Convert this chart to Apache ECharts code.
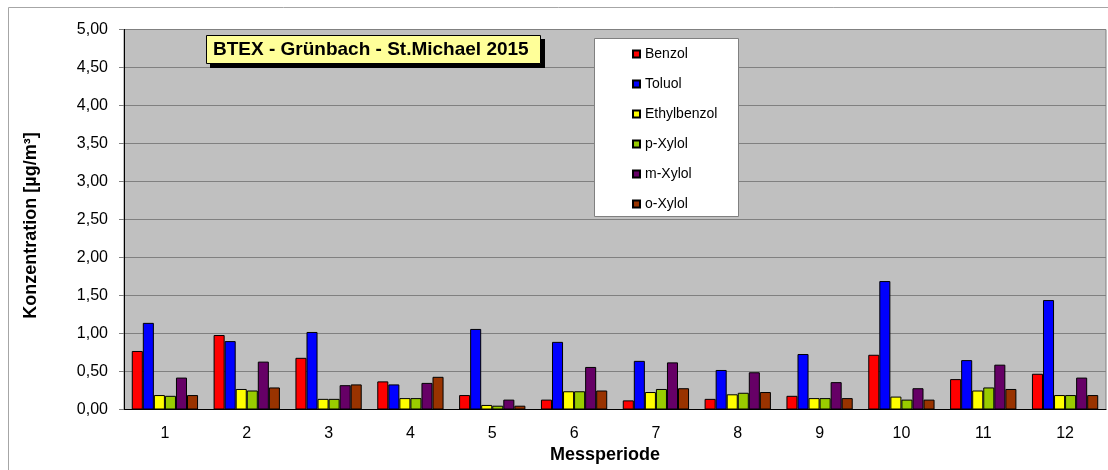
<!DOCTYPE html>
<html>
<head>
<meta charset="utf-8">
<script src="https://cdn.jsdelivr.net/npm/echarts@6/dist/echarts.min.js"></script>
<style>
  html, body { margin: 0; padding: 0; background: #fff; }
  #chart { width: 1108px; height: 470px; }
</style>
</head>
<body>
<div id="chart"></div>
<script>
const periods = ['1', '2', '3', '4', '5', '6', '7', '8', '9', '10', '11', '12']

const benzol      = [0.77, 0.98, 0.68, 0.37, 0.19, 0.13, 0.12, 0.14, 0.18, 0.72, 0.40, 0.47]
const toluol      = [1.14, 0.90, 1.02, 0.33, 1.06, 0.89, 0.64, 0.52, 0.73, 1.69, 0.65, 1.44]
const ethylbenzol = [0.19, 0.27, 0.14, 0.15, 0.06, 0.24, 0.23, 0.20, 0.15, 0.17, 0.25, 0.19]
const pXylol      = [0.18, 0.25, 0.14, 0.15, 0.05, 0.24, 0.27, 0.22, 0.15, 0.13, 0.29, 0.19]
const mXylol      = [0.42, 0.63, 0.32, 0.35, 0.13, 0.56, 0.62, 0.49, 0.36, 0.28, 0.59, 0.42]
const oXylol      = [0.19, 0.29, 0.33, 0.43, 0.05, 0.25, 0.28, 0.23, 0.15, 0.13, 0.27, 0.19]

const seriesNames = ['Benzol', 'Toluol', 'Ethylbenzol', 'p-Xylol', 'm-Xylol', 'o-Xylol']
const seriesData = [benzol, toluol, ethylbenzol, pXylol, mXylol, oXylol]
const colors = ['#ff0000', '#0000ff', '#ffff00', '#99cc00', '#660066', '#993300']

const font = 'Arial, "Liberation Sans", sans-serif'

const chart = echarts.init(document.getElementById('chart'))

const option = {
  animation: false,
  textStyle: { fontFamily: font },
  grid: {
    left: 124, top: 29.5, width: 982, height: 380,
    show: true, backgroundColor: '#c0c0c0', borderColor: '#808080', borderWidth: 1
  },
  legend: {
    orient: 'vertical',
    left: 632, top: 46,
    padding: 0,
    z: 120,
    itemWidth: 7, itemHeight: 7,
    itemGap: 14,
    icon: 'rect',
    data: seriesNames,
    textStyle: { fontFamily: font, fontSize: 14, color: '#000', lineHeight: 16 }
  },
  xAxis: {
    type: 'category',
    data: periods,
    name: 'Messperiode',
    nameLocation: 'middle',
    nameGap: 30,
    nameTextStyle: { fontFamily: font, fontSize: 18, fontWeight: 'bold', color: '#000', padding: [0, 20, 0, 0] },
    axisLine: { lineStyle: { color: '#000', width: 1 } },
    axisTick: { length: 5, lineStyle: { color: '#808080' } },
    axisLabel: { fontSize: 16, color: '#000', margin: 16 }
  },
  yAxis: {
    type: 'value',
    min: 0, max: 5, interval: 0.5,
    name: 'Konzentration [µg/m³]',
    nameLocation: 'middle',
    nameGap: 84,
    nameTextStyle: { fontFamily: font, fontSize: 18, fontWeight: 'bold', color: '#000', padding: [0, 12, 0, 0] },
    axisLine: { show: true, lineStyle: { color: '#000', width: 1 } },
    axisTick: { show: true, length: 5, lineStyle: { color: '#808080' } },
    splitLine: { lineStyle: { color: '#808080', width: 1 } },
    axisLabel: {
      fontSize: 16, color: '#000', margin: 16,
      formatter: v => v.toFixed(2).replace('.', ',')
    }
  },
  graphic: [
    {
      type: 'rect', silent: true, z: -10,
      shape: { x: 8.5, y: 7.5, width: 1120, height: 480 },
      style: { fill: 'none', stroke: '#a6a6a6', lineWidth: 1 }
    },
    {
      type: 'rect', z: 100,
      shape: { x: 594.5, y: 38.5, width: 144, height: 178 },
      style: { fill: '#ffffff', stroke: '#808080', lineWidth: 1 }
    },
    {
      type: 'rect', z: 100,
      shape: { x: 210, y: 39, width: 335, height: 29 },
      style: { fill: '#000' }
    },
    {
      type: 'rect', z: 101,
      shape: { x: 206.5, y: 35.5, width: 334, height: 28 },
      style: { fill: '#ffff99', stroke: '#000', lineWidth: 1 }
    },
    {
      type: 'text', z: 102,
      left: 213, top: 40,
      style: {
        text: 'BTEX - Grünbach - St.Michael 2015',
        fontFamily: font, fontSize: 19, fontWeight: 'bold', fill: '#000'
      }
    }
  ],
  series: seriesNames.map((name, i) => ({
    name: name,
    type: 'bar',
    data: seriesData[i],
    barGap: '0%',
    barCategoryGap: '19%',
    itemStyle: { color: colors[i], borderColor: '#000', borderWidth: 1 }
  }))
}

chart.setOption(option)
</script>
</body>
</html>
